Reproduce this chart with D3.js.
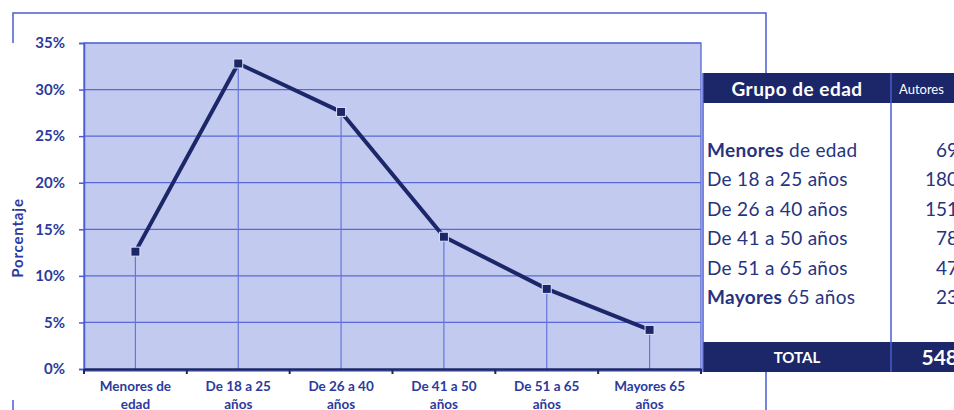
<!DOCTYPE html>
<html>
<head>
<meta charset="utf-8">
<script src="https://cdn.jsdelivr.net/npm/d3@7"></script>
<style>
  body { margin: 0; background: #fff; }
  svg text { font-family: Lato, "Open Sans", sans-serif; }
</style>
</head>
<body>
<div id="chart"></div>
<script>
// age groups and authors per group
var categorias = ["Menores de edad", "De 18 a 25 años", "De 26 a 40 años", "De 41 a 50 años", "De 51 a 65 años", "Mayores 65 años"];
var etiquetasEje = [["Menores de", "edad"], ["De 18 a 25", "años"], ["De 26 a 40", "años"], ["De 41 a 50", "años"], ["De 51 a 65", "años"], ["Mayores 65", "años"]];
var porcentajes = [0.126, 0.328, 0.276, 0.142, 0.086, 0.042];
var autores = [69, 180, 151, 78, 47, 23];
var total = 548;
var ticksY = [0, 0.05, 0.10, 0.15, 0.20, 0.25, 0.30, 0.35];

var W = 954, H = 410;
var plot = {left: 84, right: 701, top: 43, bottom: 369};

var navy = "#1c2769", blue = "#4a5cd0", txt = "#2b3a9c";

var svg = d3.select("#chart").append("svg")
    .attr("width", W).attr("height", H);

// outer frame (only the visible bits)
var frame = svg.append("g").attr("fill", "none").attr("stroke", blue).attr("stroke-width", 1.5);
frame.append("path").attr("d", "M13,43 V13 H766 V73");
frame.append("path").attr("d", "M13,400 V410");
frame.append("path").attr("d", "M766,372 V410");

var x = d3.scaleBand().domain(categorias).range([plot.left, plot.right]);
var y = d3.scaleLinear().domain([0, 0.35]).range([plot.bottom, plot.top]);

// plot area
svg.append("rect")
    .attr("x", plot.left).attr("y", plot.top)
    .attr("width", plot.right - plot.left).attr("height", plot.bottom - plot.top + 2)
    .attr("fill", "#c3caef").attr("stroke", blue).attr("stroke-width", 1.2);

// horizontal grid
svg.append("g")
  .selectAll("line").data(ticksY.slice(1)).enter().append("line")
    .attr("x1", plot.left).attr("x2", plot.right)
    .attr("y1", function(d) { return y(d); }).attr("y2", function(d) { return y(d); })
    .attr("stroke", "#5868d6").attr("stroke-width", 1.2);

// y axis
var yAxis = d3.axisLeft(y).tickValues(ticksY).tickFormat(d3.format(".0%")).tickSize(5).tickPadding(14);
var gy = svg.append("g").attr("transform", "translate(" + plot.left + ",0)").call(yAxis);
gy.select(".domain").attr("stroke", blue).attr("stroke-width", 1.5);
gy.selectAll(".tick line").attr("stroke", blue).attr("stroke-width", 1.5);
gy.selectAll(".tick text")
    .attr("fill", txt).attr("font-size", 15).attr("font-weight", 700)
    .style("font-family", "Lato, sans-serif");

// drop lines
svg.append("g")
  .selectAll("line").data(porcentajes).enter().append("line")
    .attr("x1", function(d, i) { return x(categorias[i]) + x.bandwidth() / 2; })
    .attr("x2", function(d, i) { return x(categorias[i]) + x.bandwidth() / 2; })
    .attr("y1", function(d) { return y(d); }).attr("y2", plot.bottom)
    .attr("stroke", "#6676dc").attr("stroke-width", 1.2);

// x axis
var xAxis = d3.axisBottom(x).tickSize(0).tickFormat("");
var gx = svg.append("g").attr("transform", "translate(0," + plot.bottom + ")").call(xAxis);
gx.select(".domain").attr("stroke", navy).attr("stroke-width", 2.5);
gx.selectAll(".bound").data(categorias.concat(["_end"])).enter().append("line")
    .attr("x1", function(d, i) { return plot.left + i * x.step(); })
    .attr("x2", function(d, i) { return plot.left + i * x.step(); })
    .attr("y1", 0).attr("y2", 5)
    .attr("stroke", navy).attr("stroke-width", 2);

var lbl = svg.append("g").selectAll("text").data(etiquetasEje).enter().append("text")
    .attr("x", function(d, i) { return x(categorias[i]) + x.bandwidth() / 2; })
    .attr("y", 391)
    .attr("text-anchor", "middle")
    .attr("fill", txt).attr("font-size", 13.5).attr("font-weight", 700);
lbl.selectAll("tspan").data(function(d) { return d; }).enter().append("tspan")
    .attr("x", function() { return d3.select(this.parentNode).attr("x"); })
    .attr("dy", function(d, i) { return i === 0 ? 0 : 18; })
    .text(function(d) { return d; });

// y title
svg.append("text")
    .attr("transform", "translate(23,238) rotate(-90)")
    .attr("text-anchor", "middle")
    .attr("fill", txt).attr("font-size", 15).attr("font-weight", 700)
    .attr("letter-spacing", 0.8)
    .text("Porcentaje");

// series line
var line = d3.line()
    .x(function(d, i) { return x(categorias[i]) + x.bandwidth() / 2; })
    .y(function(d) { return y(d); });
svg.append("path").datum(porcentajes)
    .attr("d", line)
    .attr("fill", "none").attr("stroke", navy).attr("stroke-width", 4)
    .attr("stroke-linejoin", "round");

svg.append("g").selectAll("rect").data(porcentajes).enter().append("rect")
    .attr("x", function(d, i) { return x(categorias[i]) + x.bandwidth() / 2 - 4.5; })
    .attr("y", function(d) { return y(d) - 4.5; })
    .attr("width", 9).attr("height", 9)
    .attr("fill", navy).attr("stroke", "#dde2f7").attr("stroke-width", 1);

// table
var tab = {left: 703, col: 891, right: 970, top: 73, head: 103, foot: 342, bottom: 372};
var t = svg.append("g");
t.append("rect").attr("x", tab.left).attr("y", tab.head)
    .attr("width", tab.right - tab.left).attr("height", tab.foot - tab.head).attr("fill", "#fff");
t.append("rect").attr("x", tab.left).attr("y", tab.top)
    .attr("width", tab.right - tab.left).attr("height", tab.head - tab.top).attr("fill", navy);
t.append("rect").attr("x", tab.left).attr("y", tab.foot)
    .attr("width", tab.right - tab.left).attr("height", tab.bottom - tab.foot).attr("fill", navy);
t.append("line").attr("x1", tab.left).attr("x2", tab.left).attr("y1", tab.top).attr("y2", tab.bottom)
    .attr("stroke", blue).attr("stroke-width", 1.5);
t.append("line").attr("x1", tab.col).attr("x2", tab.col).attr("y1", tab.top).attr("y2", tab.bottom)
    .attr("stroke", blue).attr("stroke-width", 1.5);

t.append("text").attr("x", 797).attr("y", 96).attr("text-anchor", "middle")
    .attr("fill", "#fff").attr("font-size", 19).attr("font-weight", 700)
    .attr("letter-spacing", 0.5).text("Grupo de edad");
t.append("text").attr("x", 899).attr("y", 94)
    .attr("fill", "#fff").attr("font-size", 13).text("Autores");

var rowY = d3.scalePoint().domain(categorias).range([157, 304]);
var rows = t.selectAll(".fila").data(categorias).enter().append("text")
    .attr("x", 707).attr("y", function(d) { return rowY(d); })
    .attr("fill", "#26337f").attr("font-size", 19).attr("letter-spacing", 0.3);
rows.each(function(d) {
  var el = d3.select(this);
  var m = /^(Menores|Mayores)(.*)$/.exec(d);
  if (m) {
    el.append("tspan").attr("font-weight", 700).text(m[1]);
    el.append("tspan").text(m[2]);
  } else {
    el.text(d);
  }
});
t.selectAll(".num").data(autores).enter().append("text")
    .attr("x", 958).attr("y", function(d, i) { return rowY(categorias[i]); })
    .attr("text-anchor", "end")
    .attr("fill", "#26337f").attr("font-size", 19)
    .text(function(d) { return d; });

t.append("text").attr("x", 797).attr("y", 363).attr("text-anchor", "middle")
    .attr("fill", "#fff").attr("font-size", 15).attr("font-weight", 700).text("TOTAL");
t.append("text").attr("x", 958).attr("y", 365).attr("text-anchor", "end")
    .attr("fill", "#fff").attr("font-size", 21).attr("font-weight", 700).text(total);
</script>
</body>
</html>
